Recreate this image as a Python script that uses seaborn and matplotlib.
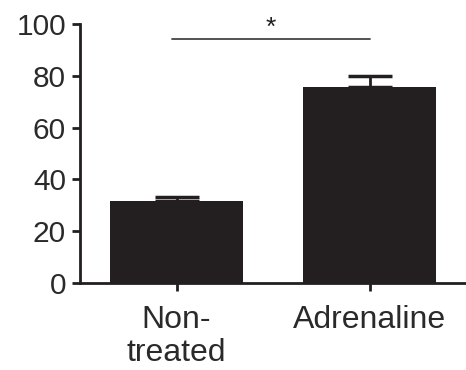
import matplotlib
matplotlib.use("Agg")
import matplotlib.pyplot as plt
import seaborn as sns
import pandas as pd

categories = ["Non-\ntreated", "Adrenaline"]
means = [31.8, 75.8]
errors = [1.5, 4.2]
yticks = [0, 20, 40, 60, 80, 100]

sns.set_style("ticks")
plt.rcParams['font.family'] = ['Liberation Sans', 'DejaVu Sans']

col = "#231f20"
fig = plt.figure(figsize=(4.66, 3.70), dpi=100)
ax = fig.add_axes([0.1717, 0.235, 0.8283, 0.70])

df = pd.DataFrame({"cat": categories, "val": means})
sns.barplot(data=df, x="cat", y="val", color=col, saturation=1, width=0.685,
            errorbar=None, ax=ax)
for p in ax.patches:
    p.set_edgecolor("none")

xs = list(range(len(categories)))
ax.errorbar(xs, means, yerr=[[0]*len(errors), errors], fmt="none",
            ecolor=col, elinewidth=2, capsize=16, capthick=2.5, zorder=3)

ax.set_xlim(-0.5, 1.5)
ax.set_ylim(0, 100)
ax.set_yticks(yticks)
ax.set_xlabel("")
ax.set_ylabel("")
for s in ["top", "right"]:
    ax.spines[s].set_visible(False)
for s in ["left", "bottom"]:
    ax.spines[s].set_linewidth(2)
    ax.spines[s].set_color(col)
ax.tick_params(axis="both", width=2, length=6, color=col, labelcolor="#2a2a2a")
ax.tick_params(axis="y", pad=4, labelsize=21.5)
ax.tick_params(axis="x", pad=10, labelsize=23)
for lab in ax.get_xticklabels():
    lab.set_linespacing(1.12)

ax.plot([-0.022, 1.005], [94.1, 94.1], color="#444444", lw=1.3, clip_on=False)
ax.text(0.49, 98.5, "*", ha="center", va="center", fontsize=19, color=col,
        clip_on=False)

fig.savefig("out.png", dpi=100)
